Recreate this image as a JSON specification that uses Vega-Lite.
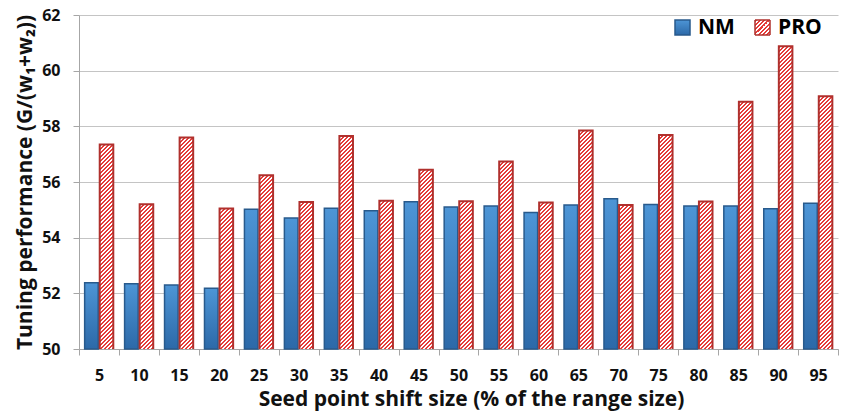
{
  "$schema": "https://vega.github.io/schema/vega-lite/v6.json",
  "width": 759,
  "height": 334,
  "autosize": {"type": "none"},
  "padding": {"left": 79, "top": 15, "right": 6, "bottom": 63},
  "background": "white",
  "config": {"font": "Open Sans", "view": {"stroke": null}},
  "data": {"values": [
    {"shift": 5, "series": "NM", "value": 52.38}, {"shift": 5, "series": "PRO", "value": 57.35},
    {"shift": 10, "series": "NM", "value": 52.34}, {"shift": 10, "series": "PRO", "value": 55.2},
    {"shift": 15, "series": "NM", "value": 52.3}, {"shift": 15, "series": "PRO", "value": 57.6},
    {"shift": 20, "series": "NM", "value": 52.18}, {"shift": 20, "series": "PRO", "value": 55.05},
    {"shift": 25, "series": "NM", "value": 55.02}, {"shift": 25, "series": "PRO", "value": 56.24},
    {"shift": 30, "series": "NM", "value": 54.71}, {"shift": 30, "series": "PRO", "value": 55.28},
    {"shift": 35, "series": "NM", "value": 55.06}, {"shift": 35, "series": "PRO", "value": 57.65},
    {"shift": 40, "series": "NM", "value": 54.97}, {"shift": 40, "series": "PRO", "value": 55.33},
    {"shift": 45, "series": "NM", "value": 55.29}, {"shift": 45, "series": "PRO", "value": 56.44},
    {"shift": 50, "series": "NM", "value": 55.1}, {"shift": 50, "series": "PRO", "value": 55.31},
    {"shift": 55, "series": "NM", "value": 55.14}, {"shift": 55, "series": "PRO", "value": 56.74},
    {"shift": 60, "series": "NM", "value": 54.9}, {"shift": 60, "series": "PRO", "value": 55.26},
    {"shift": 65, "series": "NM", "value": 55.17}, {"shift": 65, "series": "PRO", "value": 57.85},
    {"shift": 70, "series": "NM", "value": 55.4}, {"shift": 70, "series": "PRO", "value": 55.17},
    {"shift": 75, "series": "NM", "value": 55.19}, {"shift": 75, "series": "PRO", "value": 57.69},
    {"shift": 80, "series": "NM", "value": 55.14}, {"shift": 80, "series": "PRO", "value": 55.3},
    {"shift": 85, "series": "NM", "value": 55.14}, {"shift": 85, "series": "PRO", "value": 58.88},
    {"shift": 90, "series": "NM", "value": 55.04}, {"shift": 90, "series": "PRO", "value": 60.88},
    {"shift": 95, "series": "NM", "value": 55.24}, {"shift": 95, "series": "PRO", "value": 59.08}
  ]},
  "encoding": {
    "x": {
      "field": "shift", "type": "ordinal",
      "scale": {"paddingInner": 0, "paddingOuter": 0},
      "axis": {
        "title": "Seed point shift size (% of the range size)",
        "labelAngle": 0, "tickBand": "extent", "tickSize": 6,
        "tickColor": "#a6a6a6", "domainColor": "#a6a6a6", "grid": false,
        "labelFont": "Open Sans", "labelFontSize": 16, "labelFontWeight": "bold", "labelColor": "#111",
        "labelPadding": 12,
        "titleFont": "Open Sans", "titleFontSize": 21, "titleFontWeight": "bold", "titleColor": "#111",
        "titlePadding": 5, "titleX": 392
      }
    },
    "xOffset": {
      "field": "series", "type": "nominal",
      "scale": {"domain": ["NM", "PRO"], "paddingInner": 0.1, "paddingOuter": 0.375}
    },
    "y": {
      "field": "value", "type": "quantitative",
      "scale": {"domain": [50, 62], "nice": false, "zero": false},
      "axis": {
        "title": "Tuning performance (G/(w₁+w₂))",
        "values": [50, 52, 54, 56, 58, 60, 62],
        "grid": true, "gridColor": "#c4c4c4", "domainColor": "#a6a6a6", "tickColor": "#a6a6a6",
        "tickSize": 6,
        "labelFont": "Open Sans", "labelFontSize": 16, "labelFontWeight": "bold", "labelColor": "#111",
        "labelPadding": 13,
        "titleFont": "Open Sans", "titleFontSize": 21, "titleFontWeight": "bold", "titleColor": "#111",
        "titlePadding": 6
      }
    }
  },
  "layer": [
    {
      "transform": [{"filter": "datum.series === 'NM'"}],
      "mark": {
        "type": "bar",
        "fill": {"gradient": "linear", "x1": 0, "y1": 0, "x2": 0, "y2": 1,
          "stops": [{"offset": 0, "color": "#4d95d6"}, {"offset": 1, "color": "#2c69a8"}]},
        "stroke": "#285a8c", "strokeWidth": 1.5
      },
      "encoding": {"y2": {"datum": 50}}
    },
    {
      "transform": [{"filter": "datum.series === 'PRO'"}],
      "mark": {
        "type": "bar", "clip": true, "y2Offset": 340,
        "stroke": "#b0302d", "strokeWidth": 2,
        "fill": {"gradient": "linear", "x1": 0, "y1": 0, "x2": 0.04687, "y2": 1.1746,
          "stops": [
{"offset":0,"color":"#e53c3a"},{"offset":0.005,"color":"#e53c3a"},{"offset":0.005,"color":"#fff"},{"offset":0.01,"color":"#fff"},
{"offset":0.01,"color":"#e53c3a"},{"offset":0.015,"color":"#e53c3a"},{"offset":0.015,"color":"#fff"},{"offset":0.02,"color":"#fff"},
{"offset":0.02,"color":"#e53c3a"},{"offset":0.025,"color":"#e53c3a"},{"offset":0.025,"color":"#fff"},{"offset":0.03,"color":"#fff"},
{"offset":0.03,"color":"#e53c3a"},{"offset":0.035,"color":"#e53c3a"},{"offset":0.035,"color":"#fff"},{"offset":0.04,"color":"#fff"},
{"offset":0.04,"color":"#e53c3a"},{"offset":0.045,"color":"#e53c3a"},{"offset":0.045,"color":"#fff"},{"offset":0.05,"color":"#fff"},
{"offset":0.05,"color":"#e53c3a"},{"offset":0.055,"color":"#e53c3a"},{"offset":0.055,"color":"#fff"},{"offset":0.06,"color":"#fff"},
{"offset":0.06,"color":"#e53c3a"},{"offset":0.065,"color":"#e53c3a"},{"offset":0.065,"color":"#fff"},{"offset":0.07,"color":"#fff"},
{"offset":0.07,"color":"#e53c3a"},{"offset":0.075,"color":"#e53c3a"},{"offset":0.075,"color":"#fff"},{"offset":0.08,"color":"#fff"},
{"offset":0.08,"color":"#e53c3a"},{"offset":0.085,"color":"#e53c3a"},{"offset":0.085,"color":"#fff"},{"offset":0.09,"color":"#fff"},
{"offset":0.09,"color":"#e53c3a"},{"offset":0.095,"color":"#e53c3a"},{"offset":0.095,"color":"#fff"},{"offset":0.1,"color":"#fff"},
{"offset":0.1,"color":"#e53c3a"},{"offset":0.105,"color":"#e53c3a"},{"offset":0.105,"color":"#fff"},{"offset":0.11,"color":"#fff"},
{"offset":0.11,"color":"#e53c3a"},{"offset":0.115,"color":"#e53c3a"},{"offset":0.115,"color":"#fff"},{"offset":0.12,"color":"#fff"},
{"offset":0.12,"color":"#e53c3a"},{"offset":0.125,"color":"#e53c3a"},{"offset":0.125,"color":"#fff"},{"offset":0.13,"color":"#fff"},
{"offset":0.13,"color":"#e53c3a"},{"offset":0.135,"color":"#e53c3a"},{"offset":0.135,"color":"#fff"},{"offset":0.14,"color":"#fff"},
{"offset":0.14,"color":"#e53c3a"},{"offset":0.145,"color":"#e53c3a"},{"offset":0.145,"color":"#fff"},{"offset":0.15,"color":"#fff"},
{"offset":0.15,"color":"#e53c3a"},{"offset":0.155,"color":"#e53c3a"},{"offset":0.155,"color":"#fff"},{"offset":0.16,"color":"#fff"},
{"offset":0.16,"color":"#e53c3a"},{"offset":0.165,"color":"#e53c3a"},{"offset":0.165,"color":"#fff"},{"offset":0.17,"color":"#fff"},
{"offset":0.17,"color":"#e53c3a"},{"offset":0.175,"color":"#e53c3a"},{"offset":0.175,"color":"#fff"},{"offset":0.18,"color":"#fff"},
{"offset":0.18,"color":"#e53c3a"},{"offset":0.185,"color":"#e53c3a"},{"offset":0.185,"color":"#fff"},{"offset":0.19,"color":"#fff"},
{"offset":0.19,"color":"#e53c3a"},{"offset":0.195,"color":"#e53c3a"},{"offset":0.195,"color":"#fff"},{"offset":0.2,"color":"#fff"},
{"offset":0.2,"color":"#e53c3a"},{"offset":0.205,"color":"#e53c3a"},{"offset":0.205,"color":"#fff"},{"offset":0.21,"color":"#fff"},
{"offset":0.21,"color":"#e53c3a"},{"offset":0.215,"color":"#e53c3a"},{"offset":0.215,"color":"#fff"},{"offset":0.22,"color":"#fff"},
{"offset":0.22,"color":"#e53c3a"},{"offset":0.225,"color":"#e53c3a"},{"offset":0.225,"color":"#fff"},{"offset":0.23,"color":"#fff"},
{"offset":0.23,"color":"#e53c3a"},{"offset":0.235,"color":"#e53c3a"},{"offset":0.235,"color":"#fff"},{"offset":0.24,"color":"#fff"},
{"offset":0.24,"color":"#e53c3a"},{"offset":0.245,"color":"#e53c3a"},{"offset":0.245,"color":"#fff"},{"offset":0.25,"color":"#fff"},
{"offset":0.25,"color":"#e53c3a"},{"offset":0.255,"color":"#e53c3a"},{"offset":0.255,"color":"#fff"},{"offset":0.26,"color":"#fff"},
{"offset":0.26,"color":"#e53c3a"},{"offset":0.265,"color":"#e53c3a"},{"offset":0.265,"color":"#fff"},{"offset":0.27,"color":"#fff"},
{"offset":0.27,"color":"#e53c3a"},{"offset":0.275,"color":"#e53c3a"},{"offset":0.275,"color":"#fff"},{"offset":0.28,"color":"#fff"},
{"offset":0.28,"color":"#e53c3a"},{"offset":0.285,"color":"#e53c3a"},{"offset":0.285,"color":"#fff"},{"offset":0.29,"color":"#fff"},
{"offset":0.29,"color":"#e53c3a"},{"offset":0.295,"color":"#e53c3a"},{"offset":0.295,"color":"#fff"},{"offset":0.3,"color":"#fff"},
{"offset":0.3,"color":"#e53c3a"},{"offset":0.305,"color":"#e53c3a"},{"offset":0.305,"color":"#fff"},{"offset":0.31,"color":"#fff"},
{"offset":0.31,"color":"#e53c3a"},{"offset":0.315,"color":"#e53c3a"},{"offset":0.315,"color":"#fff"},{"offset":0.32,"color":"#fff"},
{"offset":0.32,"color":"#e53c3a"},{"offset":0.325,"color":"#e53c3a"},{"offset":0.325,"color":"#fff"},{"offset":0.33,"color":"#fff"},
{"offset":0.33,"color":"#e53c3a"},{"offset":0.335,"color":"#e53c3a"},{"offset":0.335,"color":"#fff"},{"offset":0.34,"color":"#fff"},
{"offset":0.34,"color":"#e53c3a"},{"offset":0.345,"color":"#e53c3a"},{"offset":0.345,"color":"#fff"},{"offset":0.35,"color":"#fff"},
{"offset":0.35,"color":"#e53c3a"},{"offset":0.355,"color":"#e53c3a"},{"offset":0.355,"color":"#fff"},{"offset":0.36,"color":"#fff"},
{"offset":0.36,"color":"#e53c3a"},{"offset":0.365,"color":"#e53c3a"},{"offset":0.365,"color":"#fff"},{"offset":0.37,"color":"#fff"},
{"offset":0.37,"color":"#e53c3a"},{"offset":0.375,"color":"#e53c3a"},{"offset":0.375,"color":"#fff"},{"offset":0.38,"color":"#fff"},
{"offset":0.38,"color":"#e53c3a"},{"offset":0.385,"color":"#e53c3a"},{"offset":0.385,"color":"#fff"},{"offset":0.39,"color":"#fff"},
{"offset":0.39,"color":"#e53c3a"},{"offset":0.395,"color":"#e53c3a"},{"offset":0.395,"color":"#fff"},{"offset":0.4,"color":"#fff"},
{"offset":0.4,"color":"#e53c3a"},{"offset":0.405,"color":"#e53c3a"},{"offset":0.405,"color":"#fff"},{"offset":0.41,"color":"#fff"},
{"offset":0.41,"color":"#e53c3a"},{"offset":0.415,"color":"#e53c3a"},{"offset":0.415,"color":"#fff"},{"offset":0.42,"color":"#fff"},
{"offset":0.42,"color":"#e53c3a"},{"offset":0.425,"color":"#e53c3a"},{"offset":0.425,"color":"#fff"},{"offset":0.43,"color":"#fff"},
{"offset":0.43,"color":"#e53c3a"},{"offset":0.435,"color":"#e53c3a"},{"offset":0.435,"color":"#fff"},{"offset":0.44,"color":"#fff"},
{"offset":0.44,"color":"#e53c3a"},{"offset":0.445,"color":"#e53c3a"},{"offset":0.445,"color":"#fff"},{"offset":0.45,"color":"#fff"},
{"offset":0.45,"color":"#e53c3a"},{"offset":0.455,"color":"#e53c3a"},{"offset":0.455,"color":"#fff"},{"offset":0.46,"color":"#fff"},
{"offset":0.46,"color":"#e53c3a"},{"offset":0.465,"color":"#e53c3a"},{"offset":0.465,"color":"#fff"},{"offset":0.47,"color":"#fff"},
{"offset":0.47,"color":"#e53c3a"},{"offset":0.475,"color":"#e53c3a"},{"offset":0.475,"color":"#fff"},{"offset":0.48,"color":"#fff"},
{"offset":0.48,"color":"#e53c3a"},{"offset":0.485,"color":"#e53c3a"},{"offset":0.485,"color":"#fff"},{"offset":0.49,"color":"#fff"},
{"offset":0.49,"color":"#e53c3a"},{"offset":0.495,"color":"#e53c3a"},{"offset":0.495,"color":"#fff"},{"offset":0.5,"color":"#fff"},
{"offset":0.5,"color":"#e53c3a"},{"offset":0.505,"color":"#e53c3a"},{"offset":0.505,"color":"#fff"},{"offset":0.51,"color":"#fff"},
{"offset":0.51,"color":"#e53c3a"},{"offset":0.515,"color":"#e53c3a"},{"offset":0.515,"color":"#fff"},{"offset":0.52,"color":"#fff"},
{"offset":0.52,"color":"#e53c3a"},{"offset":0.525,"color":"#e53c3a"},{"offset":0.525,"color":"#fff"},{"offset":0.53,"color":"#fff"},
{"offset":0.53,"color":"#e53c3a"},{"offset":0.535,"color":"#e53c3a"},{"offset":0.535,"color":"#fff"},{"offset":0.54,"color":"#fff"},
{"offset":0.54,"color":"#e53c3a"},{"offset":0.545,"color":"#e53c3a"},{"offset":0.545,"color":"#fff"},{"offset":0.55,"color":"#fff"},
{"offset":0.55,"color":"#e53c3a"},{"offset":0.555,"color":"#e53c3a"},{"offset":0.555,"color":"#fff"},{"offset":0.56,"color":"#fff"},
{"offset":0.56,"color":"#e53c3a"},{"offset":0.565,"color":"#e53c3a"},{"offset":0.565,"color":"#fff"},{"offset":0.57,"color":"#fff"},
{"offset":0.57,"color":"#e53c3a"},{"offset":0.575,"color":"#e53c3a"},{"offset":0.575,"color":"#fff"},{"offset":0.58,"color":"#fff"},
{"offset":0.58,"color":"#e53c3a"},{"offset":0.585,"color":"#e53c3a"},{"offset":0.585,"color":"#fff"},{"offset":0.59,"color":"#fff"},
{"offset":0.59,"color":"#e53c3a"},{"offset":0.595,"color":"#e53c3a"},{"offset":0.595,"color":"#fff"},{"offset":0.6,"color":"#fff"},
{"offset":0.6,"color":"#e53c3a"},{"offset":0.605,"color":"#e53c3a"},{"offset":0.605,"color":"#fff"},{"offset":0.61,"color":"#fff"},
{"offset":0.61,"color":"#e53c3a"},{"offset":0.615,"color":"#e53c3a"},{"offset":0.615,"color":"#fff"},{"offset":0.62,"color":"#fff"},
{"offset":0.62,"color":"#e53c3a"},{"offset":0.625,"color":"#e53c3a"},{"offset":0.625,"color":"#fff"},{"offset":0.63,"color":"#fff"},
{"offset":0.63,"color":"#e53c3a"},{"offset":0.635,"color":"#e53c3a"},{"offset":0.635,"color":"#fff"},{"offset":0.64,"color":"#fff"},
{"offset":0.64,"color":"#e53c3a"},{"offset":0.645,"color":"#e53c3a"},{"offset":0.645,"color":"#fff"},{"offset":0.65,"color":"#fff"},
{"offset":0.65,"color":"#e53c3a"},{"offset":0.655,"color":"#e53c3a"},{"offset":0.655,"color":"#fff"},{"offset":0.66,"color":"#fff"},
{"offset":0.66,"color":"#e53c3a"},{"offset":0.665,"color":"#e53c3a"},{"offset":0.665,"color":"#fff"},{"offset":0.67,"color":"#fff"},
{"offset":0.67,"color":"#e53c3a"},{"offset":0.675,"color":"#e53c3a"},{"offset":0.675,"color":"#fff"},{"offset":0.68,"color":"#fff"},
{"offset":0.68,"color":"#e53c3a"},{"offset":0.685,"color":"#e53c3a"},{"offset":0.685,"color":"#fff"},{"offset":0.69,"color":"#fff"},
{"offset":0.69,"color":"#e53c3a"},{"offset":0.695,"color":"#e53c3a"},{"offset":0.695,"color":"#fff"},{"offset":0.7,"color":"#fff"},
{"offset":0.7,"color":"#e53c3a"},{"offset":0.705,"color":"#e53c3a"},{"offset":0.705,"color":"#fff"},{"offset":0.71,"color":"#fff"},
{"offset":0.71,"color":"#e53c3a"},{"offset":0.715,"color":"#e53c3a"},{"offset":0.715,"color":"#fff"},{"offset":0.72,"color":"#fff"},
{"offset":0.72,"color":"#e53c3a"},{"offset":0.725,"color":"#e53c3a"},{"offset":0.725,"color":"#fff"},{"offset":0.73,"color":"#fff"},
{"offset":0.73,"color":"#e53c3a"},{"offset":0.735,"color":"#e53c3a"},{"offset":0.735,"color":"#fff"},{"offset":0.74,"color":"#fff"},
{"offset":0.74,"color":"#e53c3a"},{"offset":0.745,"color":"#e53c3a"},{"offset":0.745,"color":"#fff"},{"offset":0.75,"color":"#fff"},
{"offset":0.75,"color":"#e53c3a"},{"offset":0.755,"color":"#e53c3a"},{"offset":0.755,"color":"#fff"},{"offset":0.76,"color":"#fff"},
{"offset":0.76,"color":"#e53c3a"},{"offset":0.765,"color":"#e53c3a"},{"offset":0.765,"color":"#fff"},{"offset":0.77,"color":"#fff"},
{"offset":0.77,"color":"#e53c3a"},{"offset":0.775,"color":"#e53c3a"},{"offset":0.775,"color":"#fff"},{"offset":0.78,"color":"#fff"},
{"offset":0.78,"color":"#e53c3a"},{"offset":0.785,"color":"#e53c3a"},{"offset":0.785,"color":"#fff"},{"offset":0.79,"color":"#fff"},
{"offset":0.79,"color":"#e53c3a"},{"offset":0.795,"color":"#e53c3a"},{"offset":0.795,"color":"#fff"},{"offset":0.8,"color":"#fff"},
{"offset":0.8,"color":"#e53c3a"},{"offset":0.805,"color":"#e53c3a"},{"offset":0.805,"color":"#fff"},{"offset":0.81,"color":"#fff"},
{"offset":0.81,"color":"#e53c3a"},{"offset":0.815,"color":"#e53c3a"},{"offset":0.815,"color":"#fff"},{"offset":0.82,"color":"#fff"}
          ]}
      },
      "encoding": {"y2": {"field": "value"}}
    },
    {
      "transform": [{"filter": "false"}],
      "mark": {
        "type": "point", "shape": "square", "filled": true, "opacity": 1,
        "fill": {"gradient": "linear", "x1": 0, "y1": 0, "x2": 0, "y2": 1,
          "stops": [{"offset": 0, "color": "#4d95d6"}, {"offset": 1, "color": "#2c69a8"}]},
        "stroke": "#285a8c", "strokeWidth": 1.5
      },
      "encoding": {
        "shape": {
          "field": "series", "type": "nominal",
          "scale": {"domain": ["NM"], "range": ["square"]},
          "legend": {
            "title": null, "orient": "none", "legendX": 593, "legendY": 2,
            "padding": 0, "symbolType": "square",
            "symbolSize": 225, "symbolStrokeWidth": 1.5, "symbolOpacity": 1,
            "labelFont": "Open Sans", "labelFontSize": 21, "labelFontWeight": "bold", "labelColor": "#000",
            "labelOffset": 5
          }
        }
      }
    },
    {
      "transform": [{"filter": "false"}],
      "mark": {
        "type": "point", "shape": "square", "filled": true, "opacity": 1,
        "fill": {"gradient": "linear", "x1": 0, "y1": 0, "x2": 1, "y2": 1,
          "stops": [
{"offset":0,"color":"#e53c3a"},{"offset":0.0714,"color":"#e53c3a"},{"offset":0.0714,"color":"#fff"},{"offset":0.1429,"color":"#fff"},
{"offset":0.1429,"color":"#e53c3a"},{"offset":0.2143,"color":"#e53c3a"},{"offset":0.2143,"color":"#fff"},{"offset":0.2857,"color":"#fff"},
{"offset":0.2857,"color":"#e53c3a"},{"offset":0.3571,"color":"#e53c3a"},{"offset":0.3571,"color":"#fff"},{"offset":0.4286,"color":"#fff"},
{"offset":0.4286,"color":"#e53c3a"},{"offset":0.5,"color":"#e53c3a"},{"offset":0.5,"color":"#fff"},{"offset":0.5714,"color":"#fff"},
{"offset":0.5714,"color":"#e53c3a"},{"offset":0.6429,"color":"#e53c3a"},{"offset":0.6429,"color":"#fff"},{"offset":0.7143,"color":"#fff"},
{"offset":0.7143,"color":"#e53c3a"},{"offset":0.7857,"color":"#e53c3a"},{"offset":0.7857,"color":"#fff"},{"offset":0.8571,"color":"#fff"},
{"offset":0.8571,"color":"#e53c3a"},{"offset":0.9286,"color":"#e53c3a"},{"offset":0.9286,"color":"#fff"},{"offset":1,"color":"#fff"}
          ]},
        "stroke": "#b0302d", "strokeWidth": 1.5
      },
      "encoding": {
        "strokeDash": {
          "field": "series", "type": "nominal",
          "scale": {"domain": ["PRO"], "range": [[1, 0]]},
          "legend": {
            "title": null, "orient": "none", "legendX": 673, "legendY": 2,
            "padding": 0, "symbolType": "square",
            "symbolSize": 225, "symbolStrokeWidth": 1.5, "symbolOpacity": 1,
            "labelFont": "Open Sans", "labelFontSize": 21, "labelFontWeight": "bold", "labelColor": "#000",
            "labelOffset": 5
          }
        }
      }
    }
  ]
}
